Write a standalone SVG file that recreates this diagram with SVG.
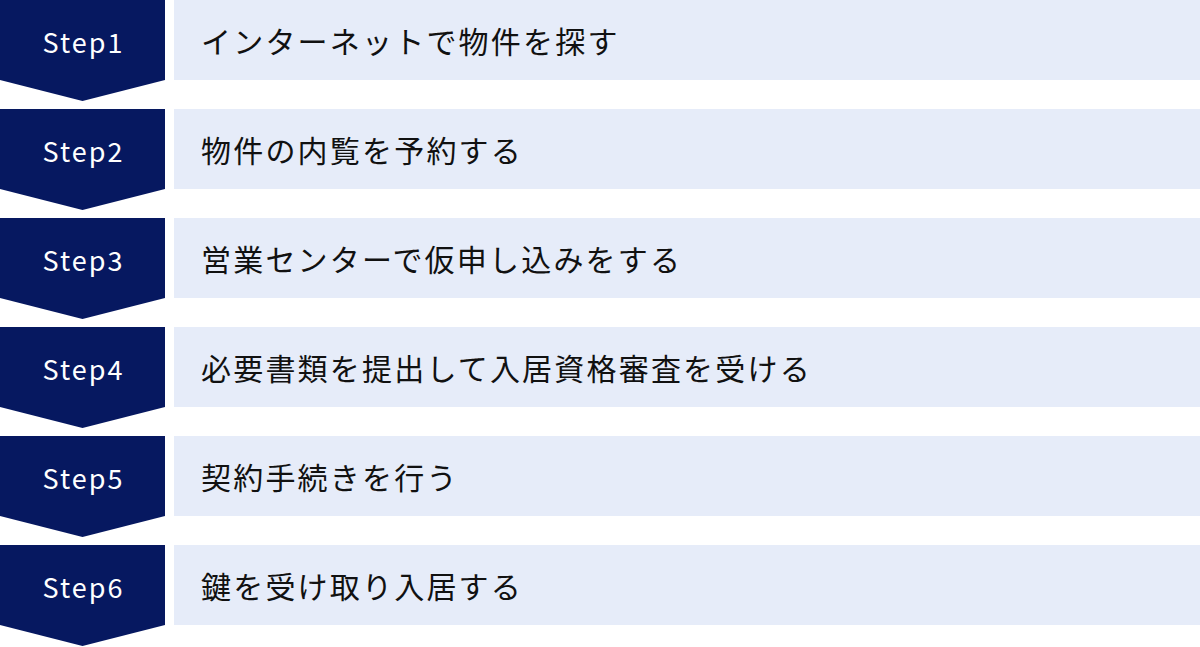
<svg xmlns="http://www.w3.org/2000/svg" width="1200" height="647" viewBox="0 0 1200 647">
<defs>
<style>
.badge{fill:#061860;}
.bar{fill:#E6ECF9;}
.step{font-family:"Noto Sans CJK JP","Noto Sans",sans-serif;font-size:27px;fill:#FFFFFF;letter-spacing:2px;text-anchor:middle;}
.label{font-family:"Noto Sans CJK JP","Noto Sans",sans-serif;font-size:30px;fill:#111111;letter-spacing:2.2px;dominant-baseline:central;}
</style>
<path id="chev" d="M0 0H165V80L82.5 101L0 80Z"/>
</defs>
<g id="connectors"></g>
<g id="step1"><use href="#chev" class="badge"/><rect class="bar" x="174" y="0" width="1026" height="80"/><text class="step" x="83.5" y="53">Step1</text><text class="label" x="201" y="40">インターネットで物件を探す</text></g>
<g id="step2" transform="translate(0,109)"><use href="#chev" class="badge"/><rect class="bar" x="174" y="0" width="1026" height="80"/><text class="step" x="83.5" y="53">Step2</text><text class="label" x="201" y="40">物件の内覧を予約する</text></g>
<g id="step3" transform="translate(0,218)"><use href="#chev" class="badge"/><rect class="bar" x="174" y="0" width="1026" height="80"/><text class="step" x="83.5" y="53">Step3</text><text class="label" x="201" y="40">営業センターで仮申し込みをする</text></g>
<g id="step4" transform="translate(0,327)"><use href="#chev" class="badge"/><rect class="bar" x="174" y="0" width="1026" height="80"/><text class="step" x="83.5" y="53">Step4</text><text class="label" x="201" y="40">必要書類を提出して入居資格審査を受ける</text></g>
<g id="step5" transform="translate(0,436)"><use href="#chev" class="badge"/><rect class="bar" x="174" y="0" width="1026" height="80"/><text class="step" x="83.5" y="53">Step5</text><text class="label" x="201" y="40">契約手続きを行う</text></g>
<g id="step6" transform="translate(0,545)"><use href="#chev" class="badge"/><rect class="bar" x="174" y="0" width="1026" height="80"/><text class="step" x="83.5" y="53">Step6</text><text class="label" x="201" y="40">鍵を受け取り入居する</text></g>
</svg>
